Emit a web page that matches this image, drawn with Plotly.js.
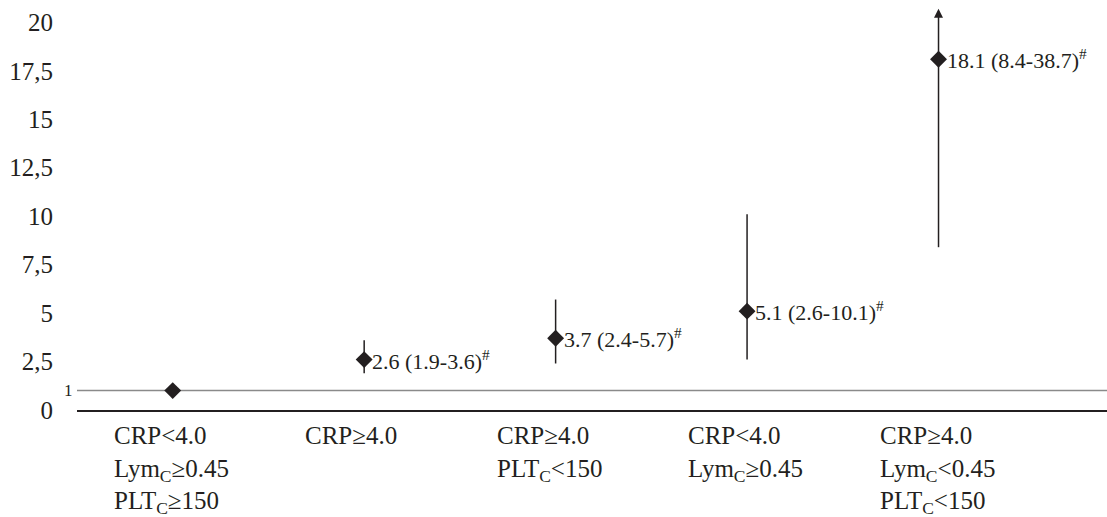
<!DOCTYPE html>
<html>
<head>
<meta charset="utf-8">
<script src="https://cdn.plot.ly/plotly-3.0.1.min.js"></script>
<style>html,body{margin:0;padding:0;background:#fff;}#chart{width:1107px;height:517px;}</style>
</head>
<body>
<div id="chart"></div>
<script>
// Data
const categories = [
  'CRP<4.0<br>Lym<sub>C</sub>≥0.45<br>PLT<sub>C</sub>≥150',
  'CRP≥4.0',
  'CRP≥4.0<br>PLT<sub>C</sub><150',
  'CRP<4.0<br>Lym<sub>C</sub>≥0.45',
  'CRP≥4.0<br>Lym<sub>C</sub><0.45<br>PLT<sub>C</sub><150'
];
const estimate = [1, 2.6, 3.7, 5.1, 18.1];
const ciLower = [1, 1.9, 2.4, 2.6, 8.4];
const ciUpper = [1, 3.6, 5.7, 10.1, 38.7];
const pointLabels = ['', '2.6 (1.9-3.6)<sup>#</sup>', '3.7 (2.4-5.7)<sup>#</sup>', '5.1 (2.6-10.1)<sup>#</sup>', '18.1 (8.4-38.7)<sup>#</sup>'];
const yTickVals = [0, 2.5, 5, 7.5, 10, 12.5, 15, 17.5, 20];
const yTickText = ['0', '2,5', '5', '7,5', '10', '12,5', '15', '17,5', '20'];
const referenceValue = 1;
const yMax = 21;
const arrowTop = 20.7;

const FONT = 'Liberation Serif, Times New Roman, serif';
const INK = '#231f20';
const xIdx = categories.map((c, i) => i);

// Upper whisker is capped at the axis top when the CI exceeds it (drawn as arrow)
const plus = estimate.map((e, i) => ciUpper[i] > yMax ? 0 : ciUpper[i] - e);
const minus = estimate.map((e, i) => e - ciLower[i]);

const trace = {
  type: 'scatter',
  mode: 'markers',
  x: xIdx,
  y: estimate,
  marker: {symbol: 'diamond', size: 13, color: INK},
  error_y: {type: 'data', symmetric: false, array: plus, arrayminus: minus,
            color: INK, thickness: 1.5, width: 0},
  hoverinfo: 'skip',
  cliponaxis: false
};

const annotations = [];
categories.forEach((c, i) => {
  annotations.push({
    x: i, xref: 'x', y: 0, yref: 'paper', yanchor: 'top', xanchor: 'left',
    xshift: -61, yshift: -10, align: 'left', showarrow: false,
    text: c, font: {family: FONT, size: 25, color: INK}
  });
  if (pointLabels[i]) {
    annotations.push({
      x: i, xref: 'x', y: estimate[i], yref: 'y', xanchor: 'left', yanchor: 'middle',
      xshift: 6, showarrow: false, text: pointLabels[i],
      font: {family: FONT, size: 22, color: INK}
    });
  }
  if (ciUpper[i] > yMax) {
    annotations.push({
      x: i, xref: 'x', y: arrowTop, yref: 'y', ax: i, axref: 'x', ay: estimate[i], ayref: 'y',
      showarrow: true, arrowhead: 2, arrowsize: 1.2, arrowwidth: 1.5, arrowcolor: INK, text: ''
    });
  }
});
annotations.push({
  x: 0, xref: 'paper', y: referenceValue, yref: 'y', xanchor: 'right', xshift: -2,
  showarrow: false, text: '1', font: {family: FONT, size: 17, color: INK}
});

const layout = {
  width: 1107, height: 517,
  margin: {l: 77, r: 0, t: 3, b: 107},
  paper_bgcolor: '#fff', plot_bgcolor: '#fff',
  showlegend: false,
  font: {family: FONT, color: INK},
  xaxis: {
    type: 'linear', range: [-0.5, 4.88], showgrid: false, zeroline: false,
    showticklabels: false, ticks: '', showline: true, linecolor: INK, linewidth: 1.5,
    fixedrange: true
  },
  yaxis: {
    range: [0, yMax], showgrid: false, zeroline: false, showline: false,
    tickvals: yTickVals, ticktext: yTickText, ticks: '',
    ticklabelstandoff: 23,
    tickfont: {family: FONT, size: 25, color: INK}, fixedrange: true
  },
  shapes: [{
    type: 'line', xref: 'paper', x0: 0, x1: 1, yref: 'y', y0: referenceValue, y1: referenceValue,
    line: {color: '#8a8a8a', width: 1.5}, layer: 'below'
  }],
  annotations: annotations
};

Plotly.newPlot('chart', [trace], layout, {displayModeBar: false, staticPlot: true});
</script>
</body>
</html>
